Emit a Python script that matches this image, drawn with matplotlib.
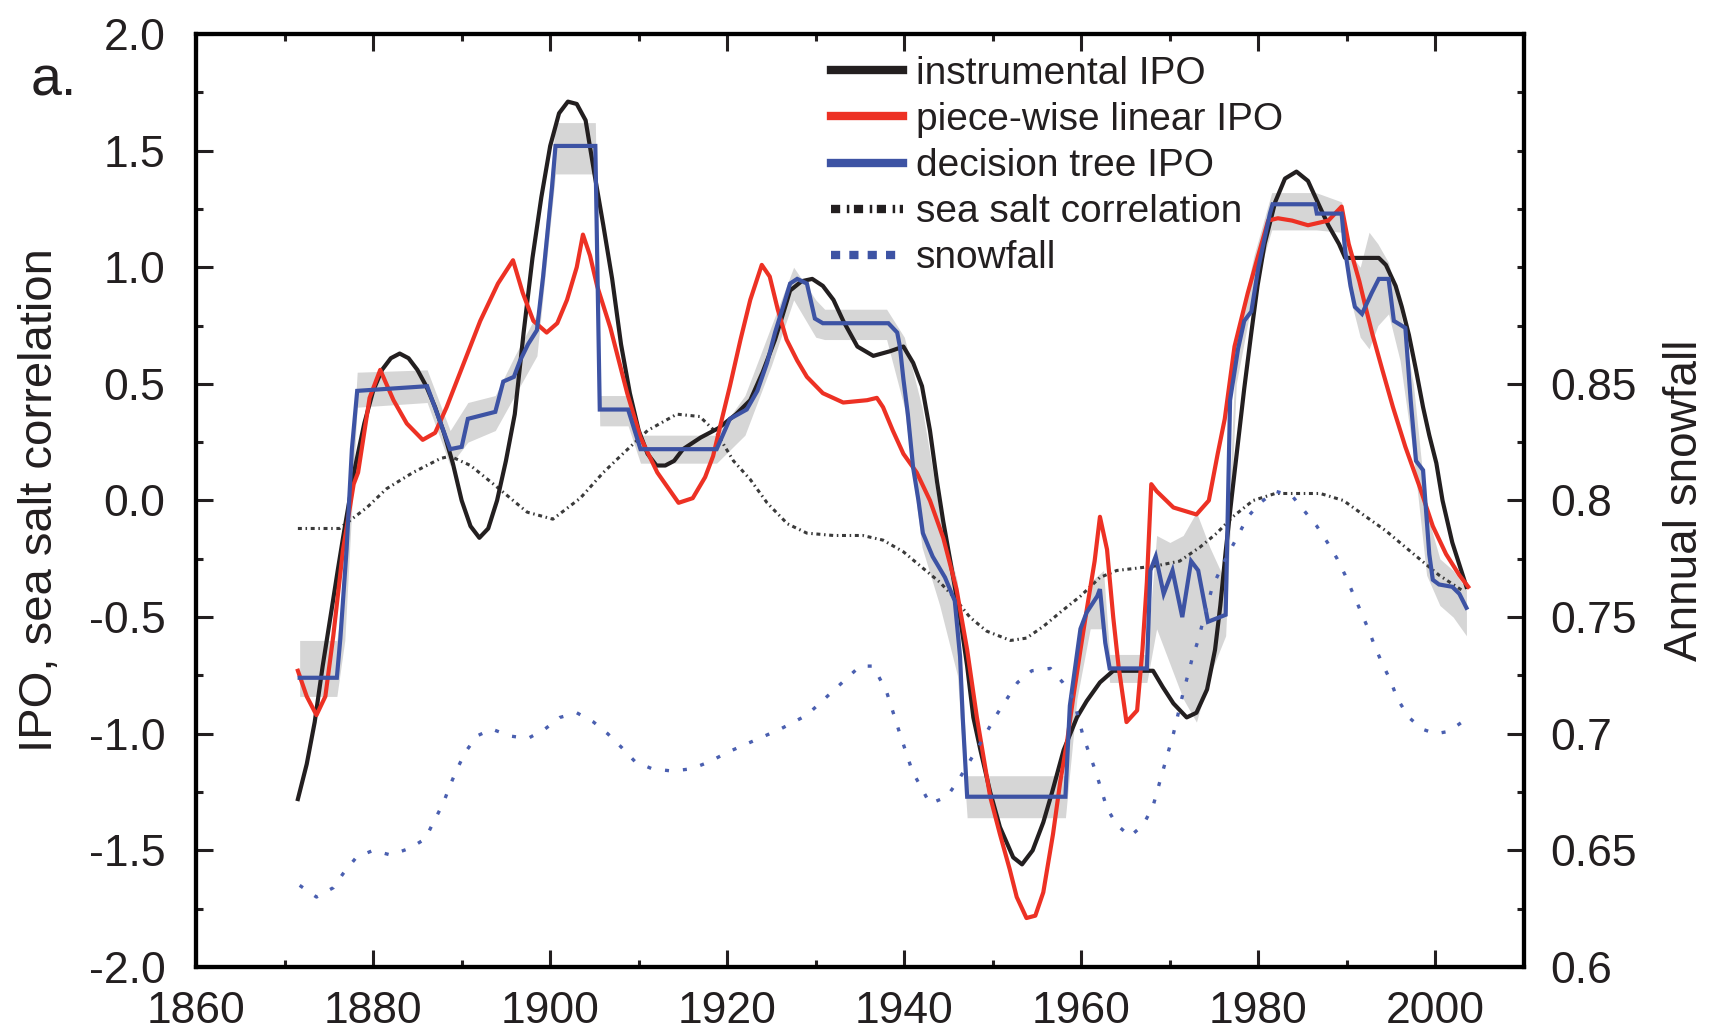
import numpy as np
import matplotlib
matplotlib.use("Agg")
import matplotlib.pyplot as plt
from matplotlib.lines import Line2D

plt.rcParams['font.family'] = ['Liberation Sans', 'DejaVu Sans']
plt.rcParams['axes.unicode_minus'] = False

# instrumental IPO (smooth)
ipo_years = [1871.5, 1872.5, 1873.4, 1874.3, 1875.3, 1876.0, 1876.6, 1877.0, 1878, 1879, 1880, 1881, 1882,
             1883, 1884, 1885, 1886, 1887, 1888, 1889, 1890, 1891, 1892, 1893, 1894, 1895, 1896, 1897,
             1898, 1899, 1900, 1901, 1902, 1903, 1904, 1905, 1906, 1907, 1908, 1909, 1910, 1911, 1912,
             1913, 1914, 1915, 1917, 1919, 1921, 1922.6, 1924, 1925.4, 1926.3, 1927.1, 1928.4, 1929.6,
             1930.8, 1932.0, 1933.1, 1934.7, 1936.5, 1938.4, 1939.9, 1941.0, 1942.0, 1942.9, 1943.7,
             1944.4, 1945.2, 1946.3, 1947.1, 1947.8, 1948.6, 1949.7, 1950.8, 1952.3, 1953.3, 1954.5,
             1955.7, 1956.7, 1958.0, 1959.5, 1960.6, 1962.1, 1963.6, 1968.1, 1969.2, 1970.4, 1971.9,
             1973.0, 1974.2, 1975.1, 1975.7, 1976.3, 1977.0, 1977.7, 1978.4, 1979.2, 1979.9, 1980.7,
             1981.9, 1983.0, 1984.3, 1985.6, 1986.8, 1987.9, 1989.1, 1989.8, 1993.6, 1994.4, 1995.5,
             1996.2, 1997.0, 1997.8, 1998.6, 1999.3, 2000.1, 2000.8, 2001.9, 2003.5]
ipo_vals = [-1.28, -1.13, -0.95, -0.71, -0.47, -0.30, -0.16, -0.07, 0.15, 0.33, 0.47, 0.56, 0.61,
            0.63, 0.61, 0.56, 0.49, 0.40, 0.29, 0.16, 0.0, -0.11, -0.16, -0.12, 0.0, 0.17, 0.37, 0.72,
            1.04, 1.30, 1.52, 1.66, 1.71, 1.70, 1.63, 1.40, 1.18, 0.95, 0.67, 0.46, 0.30, 0.20, 0.15,
            0.15, 0.17, 0.22, 0.27, 0.31, 0.37, 0.43, 0.55, 0.69, 0.80, 0.90, 0.94, 0.95,
            0.92, 0.86, 0.77, 0.66, 0.62, 0.64, 0.66, 0.59, 0.49, 0.30, 0.08,
            -0.09, -0.26, -0.50, -0.71, -0.93, -1.07, -1.25, -1.40, -1.53, -1.56, -1.50,
            -1.38, -1.25, -1.07, -0.93, -0.86, -0.78, -0.73, -0.73, -0.80, -0.87, -0.93,
            -0.91, -0.81, -0.64, -0.45, -0.22, 0.02, 0.25, 0.48, 0.72, 0.92, 1.10,
            1.28, 1.38, 1.41, 1.37, 1.27, 1.18, 1.10, 1.04, 1.04, 1.01, 0.92,
            0.83, 0.71, 0.56, 0.40, 0.28, 0.16, 0.0, -0.18, -0.37]

# piece-wise linear IPO
pw_years = [1871.5, 1872.5, 1873.6, 1874.6, 1875.5, 1876.6, 1877.8, 1878.3, 1879.6, 1880.8, 1882.3, 1883.8,
            1885.6, 1887.0, 1888.3, 1892.1, 1894.1, 1895.8, 1896.9, 1898.1, 1899.6, 1900.8, 1901.9,
            1903.0, 1903.7, 1904.5, 1905.3, 1906.8, 1908.7, 1910.2, 1912.1, 1914.5, 1916.1, 1917.5,
            1918.4, 1919.4, 1920.3, 1921.5, 1922.6, 1923.9, 1924.8, 1925.7, 1926.7, 1927.9, 1929.0,
            1930.8, 1933.1, 1935.8, 1936.9, 1937.6, 1938.7, 1939.9, 1941.4, 1942.9, 1944.4, 1945.9,
            1947.1, 1948.2, 1949.7, 1950.8, 1951.9, 1952.7, 1953.8, 1954.8, 1955.7, 1956.8, 1957.6,
            1958.4, 1959.1, 1959.9, 1960.6, 1961.5, 1962.1, 1962.9, 1963.6, 1964.2, 1965.1, 1966.3,
            1966.9, 1967.4, 1967.9, 1968.5, 1970.4, 1973.0, 1974.4, 1975.4, 1976.2, 1977.3, 1978.8,
            1979.9, 1981.1, 1982.2, 1983.8, 1985.6, 1987.9, 1989.4, 1990.2, 1991.4, 1992.1, 1992.9,
            1994.0, 1995.2, 1996.6, 1998.2, 1999.7, 2001.2, 2002.7, 2003.7]
pw_vals = [-0.73, -0.84, -0.92, -0.84, -0.58, -0.21, 0.07, 0.12, 0.44, 0.56, 0.43, 0.33,
           0.26, 0.29, 0.40, 0.77, 0.93, 1.03, 0.89, 0.77, 0.72, 0.76, 0.86,
           1.00, 1.14, 1.05, 0.92, 0.74, 0.46, 0.27, 0.12, -0.01, 0.01, 0.10,
           0.19, 0.35, 0.49, 0.69, 0.86, 1.01, 0.96, 0.82, 0.69, 0.60, 0.53,
           0.46, 0.42, 0.43, 0.44, 0.40, 0.30, 0.20, 0.12, 0.00, -0.16, -0.38,
           -0.64, -0.93, -1.27, -1.43, -1.58, -1.70, -1.79, -1.78, -1.68, -1.43, -1.21,
           -1.03, -0.84, -0.64, -0.47, -0.26, -0.07, -0.21, -0.50, -0.71, -0.95, -0.90,
           -0.64, -0.35, 0.07, 0.04, -0.03, -0.06, 0.0, 0.20, 0.35, 0.66, 0.89,
           1.04, 1.20, 1.21, 1.20, 1.18, 1.20, 1.26, 1.10, 0.94, 0.83, 0.71,
           0.56, 0.40, 0.23, 0.06, -0.11, -0.23, -0.32, -0.37]

# decision tree IPO
dt_years = [1871.7, 1875.9, 1876.3, 1877.0, 1877.6, 1878.2, 1886.1, 1888.7, 1890.0, 1890.7, 1893.8, 1894.7,
            1895.9, 1896.6, 1897.5, 1898.5, 1899.2, 1900.2, 1900.6, 1905.1, 1905.6, 1908.8, 1910.2,
            1918.8, 1920.3, 1922.2, 1923.4, 1924.5, 1925.4, 1926.3, 1927.1, 1927.9, 1929.0, 1929.9,
            1930.8, 1938.2, 1939.2, 1939.5, 1939.9, 1940.4, 1941.0, 1941.6, 1942.1, 1943.2, 1944.6,
            1945.7, 1946.3, 1946.6, 1947.1, 1958.2, 1958.7, 1959.9, 1960.6, 1961.8, 1962.1, 1962.7,
            1963.2, 1967.4, 1967.8, 1968.4, 1969.3, 1970.3, 1971.4, 1972.4, 1973.2, 1974.3, 1976.3,
            1976.8, 1977.7, 1978.4, 1979.2, 1980.0, 1981.3, 1981.6, 1986.4, 1986.6, 1989.4, 1989.8,
            1990.4, 1990.9, 1991.7, 1992.8, 1993.6, 1994.7, 1995.3, 1996.6, 1997.2, 1997.8, 1998.6,
            1999.3, 1999.7, 2000.4, 2001.9, 2002.7, 2003.5]
dt_vals = [-0.76, -0.76, -0.59, -0.21, 0.22, 0.47, 0.49, 0.22, 0.23, 0.35, 0.38, 0.51,
           0.53, 0.60, 0.67, 0.73, 0.96, 1.34, 1.52, 1.52, 0.39, 0.39, 0.22,
           0.22, 0.35, 0.39, 0.47, 0.59, 0.72, 0.83, 0.93, 0.95, 0.93, 0.78,
           0.76, 0.76, 0.72, 0.66, 0.52, 0.37, 0.14, 0.0, -0.14, -0.24, -0.33,
           -0.43, -0.67, -0.93, -1.27, -1.27, -0.88, -0.55, -0.48, -0.41, -0.38, -0.61,
           -0.72, -0.72, -0.30, -0.24, -0.40, -0.30, -0.50, -0.26, -0.30, -0.52, -0.49,
           0.43, 0.65, 0.77, 0.81, 1.00, 1.23, 1.27, 1.27, 1.23, 1.23, 1.07,
           0.92, 0.83, 0.80, 0.89, 0.95, 0.95, 0.77, 0.74, 0.43, 0.17, 0.13,
           -0.23, -0.34, -0.36, -0.37, -0.40, -0.46]

# grey uncertainty band
band_years = [1871.7, 1875.9, 1876.8, 1878.2, 1886.1, 1888.7, 1890.7, 1893.8, 1896, 1898.5, 1900.2, 1900.6,
              1905.1, 1905.6, 1908.8, 1910.2, 1918.8, 1922, 1925, 1927.5, 1930, 1931, 1938, 1940, 1942,
              1944, 1946, 1947.1, 1958.2, 1959.5, 1961, 1962.5, 1963.2, 1967.4, 1968.5, 1970, 1971.5,
              1973, 1974.5, 1976.3, 1977.5, 1979.5, 1981.5, 1986.5, 1989.4, 1990.5, 1991.5, 1992.5,
              1993.5, 1994.7, 1996, 1997.5, 1999, 2000.5, 2002, 2003.5]
band_lo = [-0.84, -0.84, -0.6, 0.40, 0.42, 0.15, 0.25, 0.30, 0.45, 0.62, 1.25, 1.40,
           1.40, 0.32, 0.32, 0.16, 0.16, 0.28, 0.58, 0.86, 0.70, 0.69, 0.69, 0.40, -0.20,
           -0.45, -0.75, -1.36, -1.36, -0.85, -0.55, -0.55, -0.78, -0.78, -0.55, -0.70, -0.85,
           -0.95, -0.75, -0.58, 0.5, 0.9, 1.16, 1.16, 1.15, 0.85, 0.70, 0.65,
           0.75, 0.80, 0.60, 0.20, -0.32, -0.45, -0.50, -0.58]
band_hi = [-0.60, -0.60, -0.35, 0.55, 0.56, 0.30, 0.42, 0.45, 0.62, 0.80, 1.45, 1.62,
           1.62, 0.45, 0.45, 0.28, 0.28, 0.45, 0.75, 1.00, 0.86, 0.82, 0.82, 0.70, 0.40,
           -0.05, -0.35, -1.18, -1.18, -0.70, -0.35, -0.30, -0.66, -0.66, -0.15, -0.18, -0.15,
           -0.05, -0.20, -0.35, 0.70, 1.05, 1.32, 1.32, 1.28, 1.05, 1.00, 1.15,
           1.10, 1.02, 0.82, 0.50, -0.05, -0.25, -0.30, -0.38]

# sea salt correlation
salt_years = [1871.5, 1876.2, 1879.3, 1881.5, 1884.5, 1887.6, 1888.7, 1891, 1893.6, 1897.4, 1900.3, 1903.4,
              1906, 1908.2, 1911, 1914.3, 1916.9, 1918.8, 1920.7, 1922.6, 1924.5, 1926.8, 1929.0, 1932.0,
              1935.3, 1937.6, 1939.9, 1942.1, 1944.0, 1945.5, 1947.4, 1949.3, 1952.0, 1953.8, 1955.7,
              1957.6, 1959.9, 1962.1, 1964.0, 1966.3, 1968.5, 1971.1, 1973.4, 1975.3, 1977.1, 1979.4,
              1981.9, 1984.3, 1987.0, 1989.6, 1991.8, 1994.4, 1996.6, 1998.5, 2000.4, 2002.4, 2003.2]
salt_vals = [-0.12, -0.12, -0.03, 0.05, 0.12, 0.18, 0.19, 0.15, 0.07, -0.05, -0.08, 0.01,
             0.12, 0.20, 0.30, 0.37, 0.36, 0.29, 0.17, 0.09, -0.01, -0.10, -0.14, -0.15,
             -0.15, -0.17, -0.22, -0.29, -0.35, -0.41, -0.50, -0.56, -0.60, -0.59, -0.54,
             -0.48, -0.41, -0.33, -0.30, -0.29, -0.28, -0.26, -0.20, -0.14, -0.07, 0.00,
             0.03, 0.03, 0.03, 0.00, -0.06, -0.13, -0.20, -0.26, -0.32, -0.37, -0.39]

# annual snowfall (right axis)
snow_years = [1871.7, 1873.6, 1875.5, 1876.6, 1878.1, 1880.0, 1882.0, 1884.2, 1885.9, 1886.8, 1887.9, 1888.7,
              1889.5, 1890.4, 1891.7, 1893.4, 1895.5, 1897.5, 1899.4, 1901.1, 1903.0, 1904.9, 1906.5,
              1908.1, 1909.6, 1911.5, 1913.8, 1916, 1918, 1920, 1923, 1926, 1929, 1931, 1933, 1935,
              1936.5, 1938, 1939.5, 1940.9, 1942.9, 1944.8, 1946.1, 1948.3, 1950.4, 1952.8, 1954.4,
              1956.5, 1957.9, 1959.1, 1960.2, 1961.6, 1962.9, 1964.0, 1965.5, 1967.0, 1968.1, 1969.2,
              1970.4, 1971.4, 1972.5, 1973.1, 1974.8, 1976.3, 1977.7, 1978.8, 1980.2, 1981.9, 1983.8,
              1985.3, 1986.6, 1987.8, 1988.9, 1989.8, 1990.7, 1991.5, 1992.4, 1993.2, 1994.0, 1994.9,
              1995.7, 1997, 1998.5, 2000, 2001.5, 2003]
snow_vals = [0.635, 0.630, 0.634, 0.640, 0.647, 0.650, 0.648, 0.651, 0.655, 0.662, 0.670, 0.678,
             0.685, 0.692, 0.699, 0.702, 0.699, 0.698, 0.702, 0.707, 0.709, 0.705, 0.700,
             0.694, 0.688, 0.685, 0.684, 0.685, 0.688, 0.692, 0.697, 0.702, 0.708, 0.715, 0.722, 0.729,
             0.729, 0.718, 0.700, 0.684, 0.670, 0.673, 0.680, 0.694, 0.708, 0.722, 0.727,
             0.728, 0.722, 0.715, 0.699, 0.684, 0.668, 0.661, 0.656, 0.661, 0.669, 0.684,
             0.700, 0.716, 0.732, 0.739, 0.763, 0.775, 0.785, 0.793, 0.799, 0.804, 0.802,
             0.795, 0.789, 0.782, 0.775, 0.768, 0.760, 0.753, 0.745, 0.737, 0.730, 0.723,
             0.715, 0.707, 0.702, 0.700, 0.701, 0.705]

black = '#231f20'
red = '#ed3124'
blue = '#3d53a4'

fig = plt.figure(figsize=(17.11, 10.36), dpi=100)
ax = fig.add_axes([0.1146, 0.0666, 0.7761, 0.9006])

ax.fill_between(band_years, band_lo, band_hi, color='#d6d6d6', lw=0, zorder=1)
ax.plot(salt_years, salt_vals, color='#3a3a3a', lw=2.2, dashes=(1.3, 1.2, 0.5, 1.2), zorder=2)
ax.plot(ipo_years, ipo_vals, color=black, lw=3, zorder=3)
ax.plot(pw_years, pw_vals, color=red, lw=3, zorder=4)
ax.plot(dt_years, dt_vals, color=blue, lw=3, solid_joinstyle='miter', zorder=5)

ax.set_xlim(1860, 2010)
ax.set_ylim(-2, 2)
ax.set_xticks(np.arange(1860, 2001, 20))
ax.set_xticks(np.arange(1870, 2001, 10), minor=True)
ax.set_yticks(np.arange(-2, 2.01, 0.5))
ax.set_yticks(np.arange(-1.75, 2, 0.5), minor=True)
ax.set_yticklabels(['%.1f' % v for v in np.arange(-2, 2.01, 0.5)])
ax.tick_params(which='both', direction='in', top=True, right=False, width=2.2, labelsize=32, colors=black)
ax.tick_params(which='major', length=12)
ax.tick_params(which='minor', length=5)
ax.tick_params(axis='y', pad=22)
ax.tick_params(axis='x', pad=17)
for s in ax.spines.values():
    s.set_linewidth(3)
    s.set_color(black)

ax2 = ax.twinx()
ax2.plot(snow_years, snow_vals, color='#4a5fb0', lw=2.4, dashes=(1.2, 4.2), zorder=2)
ax2.set_ylim(0.6, 1.0)
ax2.set_yticks([0.6, 0.65, 0.7, 0.75, 0.8, 0.85])
ax2.set_yticklabels(['0.6', '0.65', '0.7', '0.75', '0.8', '0.85'])
ax2.set_yticks([0.625, 0.675, 0.725, 0.775, 0.825, 0.875, 0.9, 0.925, 0.95, 0.975], minor=True)
ax2.tick_params(which='both', direction='in', width=2.2, labelsize=32, colors=black, pad=19)
ax2.tick_params(which='major', length=12)
ax2.tick_params(which='minor', length=5)
for s in ax2.spines.values():
    s.set_linewidth(3)

ax.set_ylabel('IPO, sea salt correlation', fontsize=34, color=black)
ax.yaxis.set_label_coords(-0.101, 0.5)
ax2.set_ylabel('Annual snowfall', fontsize=33, color=black)
ax2.yaxis.set_label_coords(1.1045, 0.5)

fig.text(0.018, 0.921, 'a.', fontsize=40, color=black, va='center')

handles = [Line2D([], [], color=black, lw=6),
           Line2D([], [], color=red, lw=6),
           Line2D([], [], color=blue, lw=6),
           Line2D([], [], color=black, lw=6, dashes=(1.1, 0.8, 0.3, 0.55)),
           Line2D([], [], color=blue, lw=6, dashes=(1.1, 1.1))]
labels = ['instrumental IPO', 'piece-wise linear IPO', 'decision tree IPO',
          'sea salt correlation', 'snowfall']
leg = fig.legend(handles, labels, loc='upper left', bbox_to_anchor=(0.4857, 0.946),
                 bbox_transform=fig.transFigure, frameon=False, fontsize=28,
                 borderpad=0, borderaxespad=0, handlelength=1.85, handletextpad=0.33,
                 labelspacing=0.26)
for t in leg.get_texts():
    t.set_color(black)

fig.savefig('out.png', dpi=100)
